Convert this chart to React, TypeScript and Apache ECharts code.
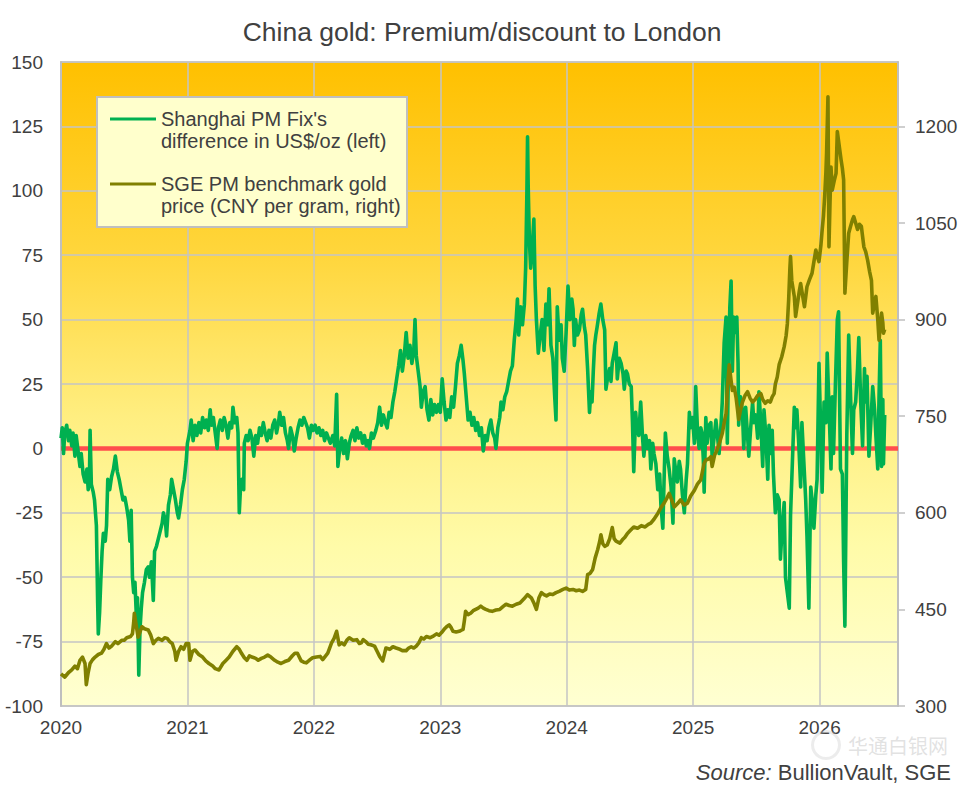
import React, { useEffect, useRef } from "react";
import * as echarts from "echarts";

// Shanghai PM Fix's difference to London, US$/oz (left axis) — [decimal year, value]
const premium2020: [number, number][] = [
  [2020.0, 4],[2020.01, 8],[2020.02, -2],[2020.03, 6],[2020.045, 9],[2020.06, 3],[2020.07, 7],[2020.085, 1],[2020.095, 6],[2020.11, -3],[2020.12, 5],[2020.135, -1],[2020.15, -7],[2020.16, -2],[2020.175, -10],[2020.19, -13],[2020.205, -8],[2020.215, -16],[2020.225, -12],[2020.23, 7],[2020.24, -14],[2020.255, -17],[2020.265, -20],[2020.28, -30],[2020.29, -60],[2020.295, -72],[2020.305, -64],[2020.315, -51],[2020.325, -40],[2020.335, -33],[2020.35, -36],[2020.36, -30],[2020.37, -12],[2020.385, -16],[2020.4, -11],[2020.415, -8],[2020.43, -3],[2020.445, -9],[2020.46, -12],[2020.475, -16],[2020.49, -20],[2020.505, -19],[2020.52, -23],[2020.535, -28],[2020.545, -36],[2020.555, -24],[2020.565, -50],[2020.575, -56],[2020.585, -52],[2020.595, -64],[2020.605, -58],[2020.615, -88],[2020.625, -70],[2020.635, -62],[2020.645, -56],[2020.66, -52],[2020.675, -47],[2020.69, -46],[2020.7, -50],[2020.715, -44],[2020.73, -59],[2020.74, -40],[2020.755, -38],[2020.77, -35],[2020.785, -32],[2020.8, -29],[2020.81, -25],[2020.825, -28],[2020.835, -34],[2020.85, -22],[2020.865, -18],[2020.875, -12],[2020.89, -16],[2020.905, -20],[2020.92, -25],[2020.93, -27],[2020.945, -22],[2020.96, -16],[2020.975, -12],[2020.99, -5],[2021.0, 2],[2021.02, 7],
];
const premium2021: [number, number][] = [
  [2021.03, 11],[2021.045, 3],[2021.06, 9],[2021.075, 5],[2021.09, 10],[2021.105, 6],[2021.12, 12],[2021.135, 8],[2021.15, 11],[2021.165, 7],[2021.18, 15],[2021.19, 9],[2021.205, 12],[2021.22, 6],[2021.235, 0],[2021.245, 8],[2021.26, 11],[2021.275, 7],[2021.29, 12],[2021.305, 9],[2021.32, 4],[2021.335, 10],[2021.35, 8],[2021.36, 16],[2021.375, 10],[2021.39, 12],[2021.4, 6],[2021.41, -25],[2021.42, -15],[2021.43, -12],[2021.445, -16],[2021.45, 2],[2021.465, 5],[2021.48, 3],[2021.495, 7],[2021.51, 4],[2021.525, -3],[2021.54, 5],[2021.555, 2],[2021.57, 8],[2021.585, 5],[2021.6, 10],[2021.615, 6],[2021.63, 3],[2021.645, 7],[2021.66, 4],[2021.675, 9],[2021.69, 11],[2021.705, 6],[2021.72, 10],[2021.73, 14],[2021.745, 9],[2021.76, 12],[2021.775, 6],[2021.79, 3],[2021.8, 0],[2021.815, 8],[2021.83, 5],[2021.845, -1],[2021.86, 4],[2021.875, 8],[2021.89, 11],[2021.905, 9],[2021.92, 12],[2021.935, 10],[2021.95, 8],[2021.965, 4],[2021.98, 9],[2021.995, 7],
];
const premium2022: [number, number][] = [
  [2022.01, 9],[2022.025, 6],[2022.04, 8],[2022.055, 5],[2022.07, 7],[2022.085, 3],[2022.1, 6],[2022.115, 4],[2022.13, 2],[2022.15, 5],[2022.165, 1],[2022.18, 21],[2022.19, -7],[2022.205, 0],[2022.22, 4],[2022.235, -2],[2022.25, 3],[2022.265, -4],[2022.28, 2],[2022.295, 5],[2022.31, 7],[2022.325, 3],[2022.34, 8],[2022.355, 4],[2022.37, 6],[2022.385, 2],[2022.4, 5],[2022.415, 1],[2022.43, 3],[2022.44, 0],[2022.455, 6],[2022.47, 4],[2022.49, 7],[2022.505, 10],[2022.52, 16],[2022.535, 9],[2022.55, 13],[2022.565, 10],[2022.58, 8],[2022.595, 14],[2022.61, 12],[2022.625, 18],[2022.64, 22],[2022.655, 27],[2022.67, 32],[2022.685, 38],[2022.7, 30],[2022.715, 36],[2022.73, 45],[2022.745, 35],[2022.76, 40],[2022.775, 33],[2022.79, 38],[2022.8, 50],[2022.81, 36],[2022.825, 30],[2022.84, 24],[2022.85, 16],[2022.865, 22],[2022.88, 24],[2022.895, 15],[2022.91, 11],[2022.925, 19],[2022.94, 13],[2022.955, 17],[2022.97, 14],[2022.985, 17],
];
const premium2023: [number, number][] = [
  [2023.0, 14],[2023.015, 27],[2023.03, 18],[2023.045, 11],[2023.06, 15],[2023.075, 12],[2023.09, 20],[2023.105, 16],[2023.12, 24],[2023.135, 33],[2023.15, 36],[2023.165, 40],[2023.18, 34],[2023.19, 29],[2023.205, 20],[2023.22, 11],[2023.235, 14],[2023.25, 9],[2023.265, 12],[2023.28, 7],[2023.295, 10],[2023.31, 5],[2023.325, 8],[2023.34, -1],[2023.355, 5],[2023.37, 3],[2023.385, 8],[2023.4, 11],[2023.415, 6],[2023.43, 4],[2023.44, 0],[2023.455, 8],[2023.47, 12],[2023.48, 18],[2023.495, 15],[2023.51, 20],[2023.525, 22],[2023.54, 26],[2023.555, 30],[2023.57, 32],[2023.585, 42],[2023.6, 50],[2023.61, 58],[2023.62, 44],[2023.635, 55],[2023.65, 48],[2023.665, 56],[2023.675, 70],[2023.685, 100],[2023.69, 121],[2023.695, 102],[2023.705, 80],[2023.715, 70],[2023.725, 76],[2023.74, 89],[2023.75, 63],[2023.76, 50],[2023.775, 37],[2023.79, 44],[2023.805, 50],[2023.82, 38],[2023.835, 56],[2023.85, 48],[2023.86, 62],[2023.875, 40],[2023.89, 35],[2023.905, 20],[2023.915, 11],[2023.925, 55],[2023.94, 42],[2023.955, 48],[2023.965, 35],[2023.98, 30],[2023.995, 45],
];
const premium2024: [number, number][] = [
  [2024.01, 63],[2024.025, 50],[2024.04, 58],[2024.05, 54],[2024.06, 40],[2024.07, 50],[2024.085, 44],[2024.1, 46],[2024.115, 52],[2024.125, 54],[2024.14, 47],[2024.15, 44],[2024.165, 31],[2024.18, 14],[2024.19, 22],[2024.2, 18],[2024.21, 30],[2024.22, 40],[2024.23, 44],[2024.24, 47],[2024.255, 52],[2024.27, 56],[2024.285, 50],[2024.3, 46],[2024.31, 23],[2024.325, 28],[2024.34, 31],[2024.35, 26],[2024.36, 33],[2024.375, 37],[2024.39, 41],[2024.4, 27],[2024.415, 35],[2024.43, 33],[2024.445, 29],[2024.455, 23],[2024.47, 30],[2024.48, 29],[2024.495, 25],[2024.51, 24],[2024.52, 10],[2024.53, -9],[2024.545, 14],[2024.555, 8],[2024.57, 5],[2024.585, 18],[2024.6, 4],[2024.61, -3],[2024.625, 5],[2024.64, 0],[2024.655, 3],[2024.665, -8],[2024.68, 2],[2024.69, -2],[2024.705, -6],[2024.72, -16],[2024.735, -10],[2024.745, -22],[2024.76, -31],[2024.77, -12],[2024.78, 6],[2024.795, -3],[2024.81, -8],[2024.825, -15],[2024.84, -29],[2024.85, -4],[2024.865, -10],[2024.875, -13],[2024.89, -5],[2024.9, -8],[2024.915, -18],[2024.93, -25],[2024.945, -12],[2024.955, -6],[2024.97, 14],[2024.98, 8],[2024.995, 12],
];
const premium2025: [number, number][] = [
  [2025.01, 2],[2025.02, 24],[2025.035, 6],[2025.047, 0],[2025.06, 8],[2025.07, 6],[2025.08, -4],[2025.087, -17],[2025.1, 12],[2025.11, 2],[2025.125, 9],[2025.14, 10],[2025.15, -3],[2025.165, 4],[2025.18, 11],[2025.19, 6],[2025.205, -2],[2025.22, 9],[2025.23, 18],[2025.245, 41],[2025.26, 51],[2025.27, 2],[2025.28, 35],[2025.29, 55],[2025.3, 65],[2025.31, 30],[2025.32, 51],[2025.335, 45],[2025.345, 51],[2025.355, 33],[2025.36, 9],[2025.375, 20],[2025.39, 14],[2025.4, 0],[2025.415, 16],[2025.43, 5],[2025.44, -3],[2025.455, 8],[2025.47, 18],[2025.48, 10],[2025.495, 13],[2025.51, 4],[2025.52, 22],[2025.535, 10],[2025.55, -7],[2025.56, 15],[2025.575, 5],[2025.59, -12],[2025.6, 9],[2025.615, -2],[2025.625, 7],[2025.635, -10],[2025.65, -25],[2025.665, -18],[2025.68, -20],[2025.69, -43],[2025.705, -30],[2025.72, -21],[2025.73, -50],[2025.745, -56],[2025.76, -62],[2025.77, -26],[2025.785, -5],[2025.8, 16],[2025.81, 8],[2025.82, 15],[2025.835, 2],[2025.85, -15],[2025.86, 10],[2025.875, -5],[2025.89, -20],[2025.9, -34],[2025.915, -62],[2025.93, -15],[2025.945, -22],[2025.955, -31],[2025.97, -18],[2025.98, -12],[2025.995, 33],
];
const premium2026: [number, number][] = [
  [2026.01, 5],[2026.02, -17],[2026.035, 18],[2026.05, 10],[2026.06, 37],[2026.075, 15],[2026.09, -8],[2026.1, 20],[2026.11, -2],[2026.125, 25],[2026.14, 50],[2026.15, 53],[2026.165, -8],[2026.18, -10],[2026.19, -44],[2026.2, -69],[2026.215, 5],[2026.23, 44],[2026.245, 20],[2026.26, -2],[2026.27, 15],[2026.285, 18],[2026.3, 31],[2026.31, 43],[2026.325, 18],[2026.34, 1],[2026.355, 31],[2026.36, 18],[2026.375, 28],[2026.39, -3],[2026.405, 10],[2026.42, 24],[2026.435, 15],[2026.445, 5],[2026.46, -8],[2026.47, 20],[2026.48, 42],[2026.49, -7],[2026.5, 19],[2026.505, -6],[2026.515, 13],
];

// SGE PM benchmark gold price, CNY per gram (right axis) — [decimal year, value]
const price2020: [number, number][] = [
  [2020.0, 350],[2020.03, 345],[2020.06, 352],[2020.085, 356],[2020.11, 362],[2020.13, 358],[2020.15, 371],[2020.17, 376],[2020.19, 366],[2020.2, 333],[2020.215, 352],[2020.23, 366],[2020.25, 372],[2020.27, 376],[2020.295, 380],[2020.32, 382],[2020.34, 388],[2020.36, 397],[2020.38, 390],[2020.4, 393],[2020.43, 400],[2020.45, 397],[2020.48, 402],[2020.5, 402],[2020.52, 406],[2020.55, 408],[2020.565, 412],[2020.575, 430],[2020.58, 444],[2020.595, 425],[2020.61, 407],[2020.625, 415],[2020.64, 423],[2020.66, 420],[2020.69, 418],[2020.71, 410],[2020.73, 397],[2020.75, 402],[2020.77, 405],[2020.8, 402],[2020.82, 406],[2020.84, 405],[2020.86, 400],[2020.88, 397],[2020.9, 385],[2020.91, 371],[2020.93, 385],[2020.95, 392],[2020.97, 388],[2020.99, 397],
];
const price2021: [number, number][] = [
  [2021.01, 397],[2021.02, 371],[2021.04, 385],[2021.06, 387],[2021.09, 380],[2021.12, 376],[2021.145, 370],[2021.17, 366],[2021.2, 362],[2021.22, 358],[2021.25, 356],[2021.28, 366],[2021.3, 370],[2021.33, 376],[2021.36, 385],[2021.39, 392],[2021.41, 388],[2021.43, 381],[2021.45, 375],[2021.47, 371],[2021.49, 378],[2021.51, 376],[2021.54, 374],[2021.56, 371],[2021.585, 374],[2021.61, 376],[2021.635, 379],[2021.66, 376],[2021.69, 371],[2021.715, 368],[2021.74, 366],[2021.77, 369],[2021.8, 371],[2021.83, 378],[2021.85, 382],[2021.87, 382],[2021.9, 370],[2021.92, 368],[2021.94, 367],[2021.97, 372],[2021.99, 375],
];
const price2022: [number, number][] = [
  [2022.02, 376],[2022.05, 377],[2022.07, 372],[2022.09, 377],[2022.11, 382],[2022.14, 398],[2022.16, 405],[2022.18, 416],[2022.2, 395],[2022.22, 398],[2022.24, 395],[2022.26, 402],[2022.28, 406],[2022.31, 402],[2022.34, 403],[2022.36, 397],[2022.375, 398],[2022.39, 403],[2022.41, 400],[2022.43, 396],[2022.45, 395],[2022.48, 393],[2022.5, 385],[2022.52, 377],[2022.545, 370],[2022.56, 382],[2022.57, 390],[2022.6, 388],[2022.625, 392],[2022.65, 390],[2022.68, 388],[2022.7, 386],[2022.73, 386],[2022.75, 390],[2022.77, 392],[2022.79, 390],[2022.81, 393],[2022.83, 398],[2022.85, 406],[2022.87, 404],[2022.89, 408],[2022.92, 406],[2022.94, 408],[2022.97, 412],[2022.99, 410],
];
const price2023: [number, number][] = [
  [2023.01, 414],[2023.03, 419],[2023.05, 423],[2023.07, 426],[2023.085, 422],[2023.1, 416],[2023.125, 415],[2023.15, 416],[2023.17, 418],[2023.18, 419],[2023.19, 432],[2023.2, 447],[2023.22, 442],[2023.24, 444],[2023.26, 448],[2023.28, 450],[2023.3, 452],[2023.32, 455],[2023.34, 452],[2023.36, 450],[2023.385, 448],[2023.41, 447],[2023.44, 449],[2023.47, 450],[2023.5, 455],[2023.52, 458],[2023.545, 456],[2023.57, 455],[2023.6, 458],[2023.63, 460],[2023.66, 466],[2023.69, 473],[2023.72, 468],[2023.74, 460],[2023.76, 450],[2023.78, 468],[2023.8, 476],[2023.82, 473],[2023.84, 471],[2023.865, 474],[2023.89, 473],[2023.915, 476],[2023.94, 478],[2023.97, 481],[2023.995, 483],
];
const price2024: [number, number][] = [
  [2024.02, 480],[2024.05, 481],[2024.075, 479],[2024.1, 480],[2024.125, 478],[2024.15, 481],[2024.165, 504],[2024.185, 506],[2024.205, 512],[2024.225, 530],[2024.245, 543],[2024.26, 555],[2024.27, 566],[2024.285, 552],[2024.3, 548],[2024.32, 550],[2024.34, 560],[2024.36, 577],[2024.375, 560],[2024.39, 556],[2024.42, 553],[2024.44, 558],[2024.46, 562],[2024.48, 568],[2024.5, 572],[2024.53, 578],[2024.56, 576],[2024.59, 580],[2024.62, 578],[2024.645, 582],[2024.665, 584],[2024.69, 590],[2024.72, 599],[2024.745, 608],[2024.77, 615],[2024.79, 622],[2024.81, 630],[2024.83, 620],[2024.85, 609],[2024.875, 614],[2024.9, 620],[2024.93, 612],[2024.955, 615],[2024.98, 626],
];
const price2025: [number, number][] = [
  [2025.01, 635],[2025.035, 645],[2025.06, 651],[2025.087, 677],[2025.1, 682],[2025.126, 684],[2025.14, 687],[2025.15, 672],[2025.17, 690],[2025.19, 698],[2025.21, 710],[2025.23, 723],[2025.25, 745],[2025.26, 754],[2025.27, 791],[2025.285, 830],[2025.3, 805],[2025.31, 790],[2025.325, 795],[2025.34, 778],[2025.36, 745],[2025.375, 760],[2025.39, 772],[2025.41, 782],[2025.43, 788],[2025.45, 778],[2025.47, 772],[2025.49, 776],[2025.51, 782],[2025.535, 785],[2025.55, 776],[2025.57, 770],[2025.59, 774],[2025.61, 772],[2025.625, 780],[2025.64, 785],[2025.65, 800],[2025.665, 811],[2025.68, 830],[2025.7, 842],[2025.72, 858],[2025.735, 875],[2025.745, 894],[2025.755, 930],[2025.765, 980],[2025.77, 998],[2025.78, 960],[2025.8, 936],[2025.81, 905],[2025.825, 925],[2025.84, 945],[2025.85, 956],[2025.865, 938],[2025.88, 920],[2025.89, 935],[2025.9, 951],[2025.92, 962],[2025.94, 972],[2025.955, 990],[2025.97, 1008],[2025.98, 1000],[2025.995, 990],
];
const price2026: [number, number][] = [
  [2026.01, 1015],[2026.02, 1039],[2026.03, 1060],[2026.04, 1091],[2026.05, 1130],[2026.055, 1158],[2026.066, 1246],[2026.074, 1013],[2026.082, 1080],[2026.09, 1137],[2026.1, 1101],[2026.115, 1115],[2026.13, 1127],[2026.14, 1192],[2026.155, 1170],[2026.17, 1148],[2026.18, 1135],[2026.19, 1117],[2026.2, 941],[2026.215, 990],[2026.23, 1034],[2026.245, 1045],[2026.26, 1055],[2026.27, 1060],[2026.285, 1050],[2026.3, 1040],[2026.315, 1048],[2026.33, 1045],[2026.35, 1013],[2026.365, 1005],[2026.38, 992],[2026.395, 975],[2026.41, 961],[2026.42, 910],[2026.435, 925],[2026.445, 936],[2026.46, 900],[2026.47, 868],[2026.48, 890],[2026.49, 910],[2026.5, 895],[2026.505, 879],[2026.515, 885],
];

const xMin = 2020;
const xMax = 2026.62;
const leftMin = -100;
const leftMax = 150;
const leftStep = 25;
const rightMin = 300;
const rightMax = 1300;
const rightStep = 150;
const zeroLine: [number, number][] = [[xMin, 0], [xMax, 0]];

const titleText = "China gold: Premium/discount to London";
const legendPremium = ["Shanghai PM Fix's", "difference in US$/oz (left)"];
const legendPrice = ["SGE PM benchmark gold", "price (CNY per gram, right)"];

const FONT = '"Liberation Sans", Arial, sans-serif';
const TXT = "#404040";
const GRID = "#C4C4C4";
const GREEN = "#00B050";
const OLIVE = "#808000";
const RED = "#FF4D4D";

export default function App() {
  const ref = useRef<HTMLDivElement>(null);
  useEffect(() => {
    if (!ref.current) return;
    const chart = echarts.init(ref.current, null, { renderer: "svg" });
    const premium = [
      ...premium2020, ...premium2021, ...premium2022, ...premium2023,
      ...premium2024, ...premium2025, ...premium2026,
    ];
    const price = [
      ...price2020, ...price2021, ...price2022, ...price2023,
      ...price2024, ...price2025, ...price2026,
    ];
    chart.setOption({
      animation: false,
      backgroundColor: "#FFFFFF",
      textStyle: { fontFamily: FONT },
      title: {
        text: titleText,
        left: "center",
        top: 13,
        textStyle: { fontFamily: FONT, fontSize: 26.5, fontWeight: "normal", color: TXT },
      },
      grid: {
        left: 61,
        right: 66,
        top: 62,
        bottom: 82,
        show: true,
        borderColor: "#BFBFBF",
        borderWidth: 1.5,
        backgroundColor: new echarts.graphic.LinearGradient(0, 0, 0, 1, [
          { offset: 0, color: "#FFC000" },
          { offset: 0.3, color: "#FFD63C" },
          { offset: 0.55, color: "#FFEE80" },
          { offset: 0.75, color: "#FFFBA8" },
          { offset: 1, color: "#FFFFD2" },
        ]),
      },
      xAxis: {
        type: "value",
        min: xMin,
        max: xMax,
        interval: 1,
        axisLine: { show: true, lineStyle: { color: "#BFBFBF", width: 2 } },
        axisTick: { show: false },
        splitLine: { show: true, lineStyle: { color: GRID, width: 1.5 } },
        axisLabel: {
          color: TXT,
          fontSize: 19,
          fontFamily: FONT,
          margin: 12,
          showMaxLabel: false,
          formatter: (v: number) => (Number.isInteger(v) ? String(v) : ""),
        },
      },
      yAxis: [
        {
          type: "value",
          min: leftMin,
          max: leftMax,
          interval: leftStep,
          position: "left",
          axisLine: { show: true, lineStyle: { color: "#BFBFBF", width: 2 } },
          axisTick: { show: false },
          splitLine: { show: true, lineStyle: { color: GRID, width: 1.5 } },
          axisLabel: { color: TXT, fontSize: 19, fontFamily: FONT, margin: 18 },
        },
        {
          type: "value",
          min: rightMin,
          max: rightMax,
          interval: rightStep,
          position: "right",
          axisLine: { show: true, lineStyle: { color: "#BFBFBF", width: 2 } },
          axisTick: { show: true, length: 7, lineStyle: { color: "#BFBFBF", width: 1.5 } },
          splitLine: { show: false },
          axisLabel: {
            color: TXT,
            fontSize: 19,
            fontFamily: FONT,
            margin: 17,
            showMaxLabel: false,
            formatter: (v: number) => ((v - rightMin) % rightStep === 0 ? String(v) : ""),
          },
        },
      ],
      series: [
        {
          name: "zero",
          type: "line",
          data: zeroLine,
          showSymbol: false,
          symbol: "none",
          silent: true,
          z: 1,
          lineStyle: { color: RED, width: 4.5 },
        },
        {
          name: legendPremium.join(" "),
          type: "line",
          data: premium,
          yAxisIndex: 0,
          showSymbol: false,
          symbol: "none",
          z: 2,
          lineStyle: { color: GREEN, width: 3.6, join: "round" },
        },
        {
          name: legendPrice.join(" "),
          type: "line",
          data: price,
          yAxisIndex: 1,
          showSymbol: false,
          symbol: "none",
          z: 3,
          lineStyle: { color: OLIVE, width: 3.6, join: "round" },
        },
      ],
      graphic: [
        {
          type: "rect",
          z: 100,
          shape: { x: 97, y: 97, width: 310, height: 130 },
          style: { fill: "#FFFFCC", stroke: "#BFBFBF", lineWidth: 2 },
        },
        {
          type: "line",
          z: 101,
          shape: { x1: 110, y1: 119, x2: 156, y2: 119 },
          style: { stroke: GREEN, lineWidth: 3 },
        },
        {
          type: "line",
          z: 101,
          shape: { x1: 110, y1: 184, x2: 156, y2: 184 },
          style: { stroke: OLIVE, lineWidth: 3 },
        },
        ...[
          [legendPremium[0], 119],
          [legendPremium[1], 141],
          [legendPrice[0], 184],
          [legendPrice[1], 206],
        ].map(([t, y]) => ({
          type: "text",
          z: 101,
          style: {
            text: t,
            x: 161,
            y: y,
            fill: TXT,
            fontSize: 20,
            fontFamily: FONT,
            verticalAlign: "middle",
            align: "left",
          },
        })),
        {
          type: "ring",
          z: 50,
          shape: { cx: 826, cy: 745, r: 15, r0: 12 },
          style: { fill: "rgba(200,200,200,0.35)" },
        },
        {
          type: "text",
          z: 50,
          style: {
            text: "华通白银网",
            x: 898,
            y: 745,
            align: "center",
            verticalAlign: "middle",
            fontSize: 20,
            fontFamily: '"Noto Sans CJK SC", sans-serif',
            fill: "rgba(190,190,190,0.45)",
          },
        },
        {
          type: "text",
          z: 101,
          style: {
            text: "{i|Source:} BullionVault, SGE",
            x: 951,
            y: 772,
            align: "right",
            verticalAlign: "middle",
            fontSize: 22,
            fontFamily: FONT,
            fill: TXT,
            rich: { i: { fontStyle: "italic", fontSize: 22, fontFamily: FONT, fill: TXT } },
          },
        },
      ],
    });
    return () => chart.dispose();
  }, []);
  return (
    <div
      ref={ref}
      style={{ position: "fixed", left: 0, top: 0, width: 964, height: 788 }}
    />
  );
}
